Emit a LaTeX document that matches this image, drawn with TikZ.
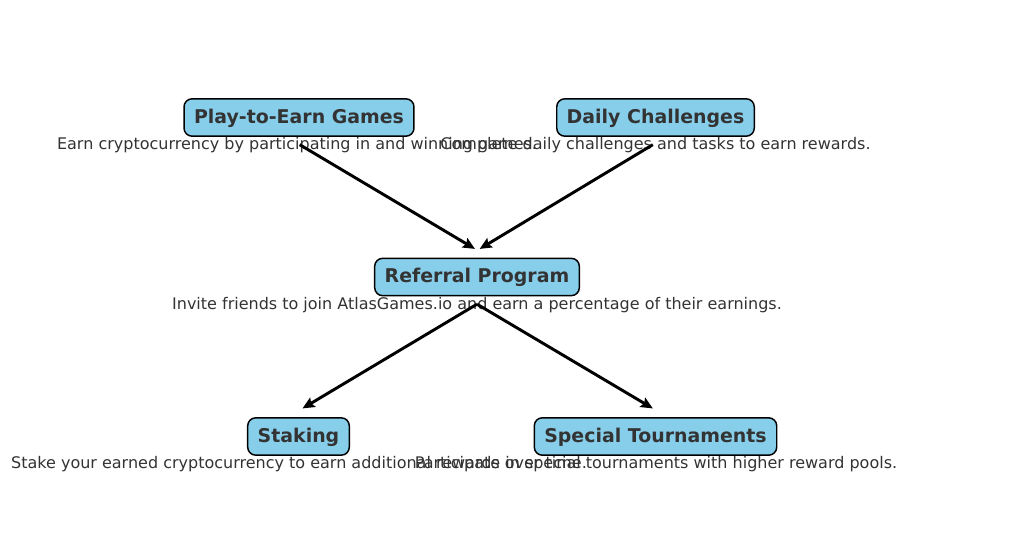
\documentclass[tikz,border=0pt]{standalone}
\usepackage{fontspec}
\setmainfont{DejaVu Sans}
\usetikzlibrary{arrows.meta}
\definecolor{boxfill}{HTML}{87CEEB}
\definecolor{txt}{HTML}{333333}
\tikzset{
  titlebox/.style={draw=black, line width=1.1pt, fill=boxfill, rounded corners=6pt,
    font=\fontsize{14.2}{16}\selectfont\bfseries, text=txt, inner xsep=7.5pt,
    minimum height=28pt, text height=11pt, text depth=2pt},
  desc/.style={font=\fontsize{12}{14}\selectfont, text=txt, inner sep=0pt, text height=8.4pt, text depth=2.4pt},
  conn/.style={line width=2.2pt, -{Stealth[length=9pt,width=8pt,inset=1.5pt]}}
}
\begin{document}
\begin{tikzpicture}[x=0.75pt,y=-0.75pt]
\useasboundingbox (0,0) rectangle (1024,555);
\node[titlebox] (play) at (299,117.5) {Play-to-Earn Games};
\node[titlebox] (daily) at (655.5,117.5) {Daily Challenges};
\node[titlebox] (ref) at (477,277) {Referral Program};
\node[titlebox] (stake) at (298.5,436.5) {Staking};
\node[titlebox] (tour) at (655.5,436.5) {Special Tournaments};
\node[desc] (dplay) at (297,146) {Earn cryptocurrency by participating in and winning games.};
\node[desc] (ddaily) at (655.5,146) {Complete daily challenges and tasks to earn rewards.};
\node[desc] (dref) at (477,305.5) {Invite friends to join AtlasGames.io and earn a percentage of their earnings.};
\node[desc] (dstake) at (299,465) {Stake your earned cryptocurrency to earn additional rewards over time.};
\node[desc] (dtour) at (656,465) {Participate in special tournaments with higher reward pools.};
\coordinate (refinl) at ([xshift=-1.5pt,yshift=6.5pt]ref.north);
\coordinate (refinr) at ([xshift=2pt,yshift=6.5pt]ref.north);
\coordinate (stakein) at ([xshift=3pt,yshift=6.5pt]stake.north);
\coordinate (tourin) at ([xshift=-2pt,yshift=6.5pt]tour.north);
\draw[conn] ([xshift=2pt,yshift=1pt]dplay.center) -- (refinl);
\draw[conn] ([xshift=-2pt,yshift=1pt]ddaily.center) -- (refinr);
\draw[conn] ([yshift=1pt]dref.center) -- (stakein);
\draw[conn] ([yshift=1pt]dref.center) -- (tourin);
\end{tikzpicture}
\end{document}
